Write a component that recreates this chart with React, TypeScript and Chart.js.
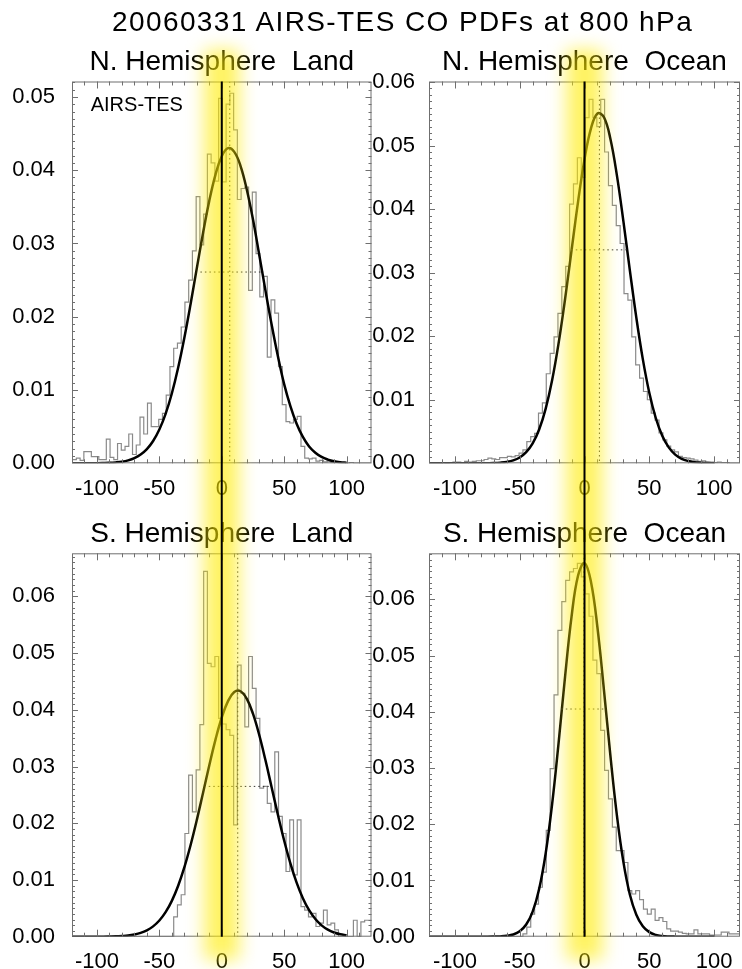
import React, { useEffect, useRef } from "react";
import { Chart, registerables } from "chart.js";

Chart.register(...registerables);

const FONT = '"Liberation Sans", Arial, Helvetica, sans-serif';
Chart.defaults.font.family = FONT;

const TITLE = "20060331 AIRS-TES CO PDFs at 800 hPa";
const PANEL_TITLES = [
  "N. Hemisphere  Land",
  "N. Hemisphere  Ocean",
  "S. Hemisphere  Land",
  "S. Hemisphere  Ocean",
];
const INSET_LABEL = "AIRS-TES";

const X_MIN = -120;
const X_MAX = 120;
const X_TICK_STEP = 50;
const Y_TICK_STEP = 0.01;

// histogram bins: left edge of first bin and bin width
const BIN_START = -119.5;
const BIN_WIDTH = 3;

// Gaussian-fit curve samples: x from -120 to 100 every 5
const CURVE_X_START = -120;
const CURVE_STEP = 5;

// ---------- N. Hemisphere Land ----------
const nhLandHist = [
  0.0005, 0.0005, 0.0007, 0.0004, 0.0016, 0.0016, 0.0009, 0.0009, 0.0005, 0.0005,
  0.0033, 0.0008, 0.0005, 0.0027, 0.0018, 0.0023, 0.0040, 0.0012, 0.0025, 0.0063,
  0.0040, 0.0082, 0.0050, 0.0050, 0.0060, 0.0068, 0.0093, 0.0132, 0.0157, 0.0164,
  0.0186, 0.0220, 0.0250, 0.0290, 0.0364, 0.0298, 0.0340, 0.0422, 0.0410, 0.0385,
  0.0498, 0.0384, 0.0490, 0.0505, 0.0455, 0.0360, 0.0375, 0.0377, 0.0236, 0.0370,
  0.0286, 0.0227, 0.0255, 0.0145, 0.0223, 0.0205, 0.0132, 0.0080, 0.0057, 0.0055,
  0.0060, 0.0064, 0.0023, 0.0007, 0.0006, 0.0007, 0.0003, 0.0004, 0.0002, 0.0003,
  0.0001, 0.0002, 0.0001, 0.0001, 0.0000, 0.0001, 0.0000, 0.0000, 0.0000, 0.0000,
];
const nhLandCurve = [
  0, 0, 0, 0.00001, 0.00001, 0.00003, 0.00006, 0.00012, 0.00022, 0.0004,
  0.0007, 0.00119, 0.00193, 0.00304, 0.00461, 0.00675, 0.00953, 0.013, 0.0171, 0.0217,
  0.0266, 0.0314, 0.0358, 0.0394, 0.0419, 0.043, 0.0425, 0.0406, 0.0374, 0.0333,
  0.0285, 0.0236, 0.0189, 0.0146, 0.0108, 0.0078, 0.0054, 0.0036, 0.0023, 0.00145,
  0.00087, 0.00051, 0.00028, 0.00015, 0.00008,
];
const nhLandMean = 6.4;
const nhLandWidthLevel = 0.0261;
const nhLandWidthRange = [-17.1, 33.6];

// ---------- N. Hemisphere Ocean ----------
const nhOceanHist = [
  0.0000, 0.0000, 0.0000, 0.0000, 0.0001, 0.0000, 0.0001, 0.0002, 0.0002, 0.0001,
  0.0003, 0.0002, 0.0003, 0.0004, 0.0004, 0.0006, 0.0008, 0.0007, 0.0006, 0.0009,
  0.0009, 0.0011, 0.0010, 0.0012, 0.0016, 0.0021, 0.0034, 0.0042, 0.0047, 0.0079,
  0.0095, 0.0141, 0.0173, 0.0199, 0.0236, 0.0278, 0.0310, 0.0408, 0.0440, 0.0481,
  0.0450, 0.0544, 0.0573, 0.0544, 0.0530, 0.0573, 0.0490, 0.0437, 0.0406, 0.0374,
  0.0346, 0.0267, 0.0257, 0.0199, 0.0155, 0.0134, 0.0113, 0.0100, 0.0079, 0.0068,
  0.0048, 0.0037, 0.0027, 0.0021, 0.0018, 0.0011, 0.0009, 0.0008, 0.0007, 0.0005,
  0.0003, 0.0004, 0.0002, 0.0002, 0.0001, 0.0002, 0.0001, 0.0001, 0.0000, 0.0000,
];
const nhOceanCurve = [
  0, 0, 0, 0, 0, 0, 0, 0, 0.00001, 0.00002,
  0.00004, 0.0001, 0.00022, 0.00046, 0.00092, 0.00175, 0.00313, 0.00532, 0.00857, 0.01307,
  0.01888, 0.02582, 0.03348, 0.04112, 0.04784, 0.05273, 0.05507, 0.05447, 0.05105, 0.04532,
  0.03812, 0.03038, 0.02293, 0.0164, 0.01111, 0.00713, 0.00434, 0.0025, 0.00136, 0.0007,
  0.00035, 0.00016, 0.00007, 0.00003, 0.00001,
];
const nhOceanMean = 11.5;
const nhOceanWidthLevel = 0.0336;
const nhOceanWidthRange = [-10.2, 33.2];

// ---------- S. Hemisphere Land ----------
const shLandHist = [
  0, 0, 0, 0, 0, 0, 0, 0, 0, 0,
  0, 0, 0, 0, 0, 0, 0, 0, 0, 0,
  0, 0, 0, 0, 0, 0, 0, 0, 0.0035, 0.0056,
  0.0074, 0.0182, 0.0285, 0.0220, 0.0294, 0.0374, 0.0644, 0.0482, 0.0476, 0.0494,
  0.0385, 0.0375, 0.0365, 0.0355, 0.0197, 0.0479, 0.0429, 0.0370, 0.0494, 0.0438,
  0.0385, 0.0262, 0.0265, 0.0235, 0.0220, 0.0326, 0.0212, 0.0182, 0.0115, 0.0206,
  0.0109, 0.0206, 0.0053, 0.0047, 0.0035, 0.0041, 0.0018, 0.0024, 0.0047, 0.0021,
  0.0024, 0.0012, 0.0000, 0.0000, 0.0000, 0.0000, 0.0029, 0.0000, 0.0026, 0.0029,
];
const shLandCurve = [
  0, 0, 0, 0, 0.00001, 0.00001, 0.00003, 0.00006, 0.00012, 0.00021,
  0.00039, 0.00067, 0.00112, 0.00182, 0.00285, 0.00432, 0.00632, 0.00894, 0.01221, 0.01613,
  0.02056, 0.02535, 0.03019, 0.03475, 0.03865, 0.04153, 0.04313, 0.04328, 0.04197, 0.03932,
  0.0356, 0.03114, 0.02632, 0.0215, 0.01697, 0.01294, 0.00954, 0.00679, 0.00467, 0.00311,
  0.002, 0.00124, 0.00074, 0.00043, 0.00024,
];
const shLandMean = 12.8;
const shLandWidthLevel = 0.0265;
const shLandWidthRange = [-10.4, 38.9];

// ---------- S. Hemisphere Ocean ----------
const shOceanHist = [
  0, 0, 0, 0, 0, 0, 0, 0, 0, 0,
  0, 0, 0, 0, 0, 0, 0, 0, 0, 0,
  0, 0, 0, 0, 0, 0.0005, 0.0017, 0.0040, 0.0058, 0.0088,
  0.0115, 0.0189, 0.0299, 0.0430, 0.0545, 0.0596, 0.0634, 0.0649, 0.0655, 0.0664,
  0.0640, 0.0610, 0.0570, 0.0492, 0.0468, 0.0367, 0.0296, 0.0245, 0.0195, 0.0153,
  0.0153, 0.0132, 0.0082, 0.0076, 0.0082, 0.0066, 0.0049, 0.0040, 0.0049, 0.0029,
  0.0034, 0.0027, 0.0014, 0.0010, 0.0010, 0.0008, 0.0006, 0.0005, 0.0005, 0.0012,
  0.0005, 0.0005, 0.0005, 0.0003, 0.0003, 0.0003, 0.0008, 0.0008, 0.0005, 0.0005,
];
const shOceanCurve = [
  0, 0, 0, 0, 0, 0, 0, 0, 0, 0,
  0.00002, 0.00005, 0.00015, 0.00039, 0.00096, 0.00216, 0.00447, 0.00849, 0.01475, 0.02354,
  0.03444, 0.04622, 0.05689, 0.06421, 0.06647, 0.06311, 0.05496, 0.04388, 0.03215, 0.02159,
  0.01331, 0.00752, 0.0039, 0.00185, 0.00081, 0.00032, 0.00012, 0.00004, 0.00001, 0,
  0, 0, 0, 0, 0,
];
const shOceanMean = -0.5;
const shOceanWidthLevel = 0.0405;
const shOceanWidthRange = [-17.9, 16.4];

const yMaxes = [0.0521, 0.0601, 0.0676, 0.0682];

// half-width (data units) of the yellow highlight band around zero
const BAND_HALF = 14;

type Layout = {
  left: number;
  top: number;
  w: number;
  h: number;
  padTop: number;
  padRight: number;
  yAxisW: number;
  xAxisH: number;
  yPad: number;
  subtitleY: number;
  bandTop: number;
  bandBottom: number;
  zeroTop: number | null;
  zeroBottom: number | null;
};

type Spec = {
  title: string;
  hist: number[];
  curve: number[];
  mean: number;
  level: number;
  range: number[];
  yMax: number;
  inset: boolean;
  layout: Layout;
};

const topRow = { top: 0, h: 508, padTop: 81.5, xAxisH: 44.7, subtitleY: 70, bandTop: 50, bandBottom: 620, zeroTop: null, zeroBottom: 508 };
const botRow = { top: 508, h: 461, padTop: 45.3, xAxisH: 32.3, subtitleY: 33.8, bandTop: -120, bandBottom: 452, zeroTop: 0, zeroBottom: null };
const leftCol = { left: 0, w: 373, padRight: 1.5, yAxisW: 72, yPad: 9 };
const rightCol = { left: 366, w: 376, padRight: 2, yAxisW: 63, yPad: 6 };

const SPECS: Spec[] = [
  { title: PANEL_TITLES[0], hist: nhLandHist, curve: nhLandCurve, mean: nhLandMean, level: nhLandWidthLevel, range: nhLandWidthRange, yMax: yMaxes[0], inset: true, layout: { ...topRow, ...leftCol } as Layout },
  { title: PANEL_TITLES[1], hist: nhOceanHist, curve: nhOceanCurve, mean: nhOceanMean, level: nhOceanWidthLevel, range: nhOceanWidthRange, yMax: yMaxes[1], inset: false, layout: { ...topRow, ...rightCol } as Layout },
  { title: PANEL_TITLES[2], hist: shLandHist, curve: shLandCurve, mean: shLandMean, level: shLandWidthLevel, range: shLandWidthRange, yMax: yMaxes[2], inset: false, layout: { ...botRow, ...leftCol } as Layout },
  { title: PANEL_TITLES[3], hist: shOceanHist, curve: shOceanCurve, mean: shOceanMean, level: shOceanWidthLevel, range: shOceanWidthRange, yMax: yMaxes[3], inset: false, layout: { ...botRow, ...rightCol } as Layout },
];

function makePlugin(spec: Spec) {
  return {
    id: "pdfDecor",
    afterDatasetsDraw(chart: any) {
      const { ctx, chartArea: a } = chart;
      const xs = chart.scales.x;
      const ys = chart.scales.y;
      const L = spec.layout;

      // dotted mean / width markers
      ctx.save();
      ctx.beginPath();
      ctx.rect(a.left, a.top, a.right - a.left, a.bottom - a.top);
      ctx.clip();
      ctx.setLineDash([1.5, 3]);
      ctx.strokeStyle = "#333";
      ctx.lineWidth = 1;
      const mx = xs.getPixelForValue(spec.mean);
      ctx.beginPath();
      ctx.moveTo(mx, a.top);
      ctx.lineTo(mx, a.bottom);
      ctx.stroke();
      const ly = ys.getPixelForValue(spec.level);
      ctx.beginPath();
      ctx.moveTo(xs.getPixelForValue(spec.range[0]), ly);
      ctx.lineTo(xs.getPixelForValue(spec.range[1]), ly);
      ctx.stroke();
      ctx.restore();

      // box and inward ticks
      ctx.save();
      ctx.strokeStyle = "#6f6f6f";
      ctx.lineWidth = 1;
      ctx.strokeRect(a.left + 0.5, a.top + 0.5, a.right - a.left - 1, a.bottom - a.top - 1);
      ctx.beginPath();
      for (let v = X_MIN + 10; v < X_MAX; v += 10) {
        const px = Math.round(xs.getPixelForValue(v)) + 0.5;
        const len = v % X_TICK_STEP === 0 ? 7 : 4;
        ctx.moveTo(px, a.bottom);
        ctx.lineTo(px, a.bottom - len);
        ctx.moveTo(px, a.top);
        ctx.lineTo(px, a.top + len);
      }
      for (let k = 1; k * 0.001 < spec.yMax; k++) {
        const py = Math.round(ys.getPixelForValue(k * 0.001)) + 0.5;
        const len = k % 10 === 0 ? 6 : 3;
        ctx.moveTo(a.left, py);
        ctx.lineTo(a.left + len, py);
        ctx.moveTo(a.right, py);
        ctx.lineTo(a.right - len, py);
      }
      ctx.stroke();
      ctx.restore();

      // panel title
      ctx.save();
      ctx.fillStyle = "#000";
      ctx.font = `28px ${FONT}`;
      ctx.textAlign = "center";
      ctx.textBaseline = "alphabetic";
      ctx.fillText(spec.title, (a.left + a.right) / 2, L.subtitleY);
      if (spec.inset) {
        ctx.font = `20px ${FONT}`;
        ctx.textAlign = "left";
        ctx.fillText(INSET_LABEL, a.left + 18.7, a.top + 29);
      }
      ctx.restore();

      // yellow highlight band around zero
      const x0 = xs.getPixelForValue(0);
      const hw = xs.getPixelForValue(BAND_HALF) - x0;
      ctx.save();
      ctx.filter = "blur(9px)";
      ctx.globalAlpha = 0.62;
      ctx.fillStyle = "rgb(255,236,0)";
      ctx.fillRect(x0 - hw, L.bandTop, 2 * hw, L.bandBottom - L.bandTop);
      ctx.restore();

      // zero line
      ctx.save();
      ctx.strokeStyle = "#000";
      ctx.lineWidth = 2;
      ctx.beginPath();
      ctx.moveTo(x0, L.zeroTop === null ? a.top : L.zeroTop);
      ctx.lineTo(x0, L.zeroBottom === null ? a.bottom : L.zeroBottom);
      ctx.stroke();
      ctx.restore();
    },
  };
}

function Panel({ spec }: { spec: Spec }) {
  const ref = useRef<HTMLCanvasElement | null>(null);
  useEffect(() => {
    const canvas = ref.current;
    if (!canvas) return;
    const L = spec.layout;
    const histPts = [];
    for (let i = 0; i <= spec.hist.length; i++) {
      histPts.push({ x: BIN_START + i * BIN_WIDTH, y: spec.hist[Math.min(i, spec.hist.length - 1)] });
    }
    const curvePts = spec.curve.map((v, i) => ({ x: CURVE_X_START + i * CURVE_STEP, y: v }));
    const chart = new Chart(canvas, {
      type: "line",
      data: {
        datasets: [
          {
            data: curvePts,
            borderColor: "#000",
            borderWidth: 2.5,
            pointRadius: 0,
            tension: 0.4,
            fill: false,
            order: 0,
          },
          {
            data: histPts,
            borderColor: "#8a8a8a",
            borderWidth: 1.2,
            pointRadius: 0,
            stepped: "after",
            fill: false,
            order: 1,
          },
        ],
      },
      options: {
        responsive: false,
        animation: false,
        devicePixelRatio: 1,
        events: [],
        layout: { padding: { top: L.padTop, right: L.padRight, left: 0, bottom: 0 } },
        plugins: {
          legend: { display: false },
          tooltip: { enabled: false },
          title: { display: false },
        },
        scales: {
          x: {
            type: "linear",
            min: X_MIN,
            max: X_MAX,
            afterFit: (s: any) => {
              s.height = L.xAxisH;
            },
            grid: { display: false },
            border: { display: false },
            ticks: {
              stepSize: X_TICK_STEP,
              includeBounds: false,
              autoSkip: false,
              maxRotation: 0,
              color: "#000",
              padding: 4,
              font: { size: 22, family: FONT },
              callback: (v: any) => String(v),
            },
          },
          y: {
            type: "linear",
            min: 0,
            max: spec.yMax,
            afterFit: (s: any) => {
              s.width = L.yAxisW;
            },
            grid: { display: false },
            border: { display: false },
            ticks: {
              stepSize: Y_TICK_STEP,
              includeBounds: false,
              autoSkip: false,
              color: "#000",
              padding: L.yPad,
              font: { size: 22, family: FONT },
              callback: (v: any) => Number(v).toFixed(2),
            },
          },
        },
      } as any,
      plugins: [makePlugin(spec)],
    });
    return () => chart.destroy();
  }, [spec]);
  const L = spec.layout;
  return (
    <canvas
      ref={ref}
      width={L.w}
      height={L.h}
      style={{ position: "absolute", left: L.left, top: L.top, width: L.w, height: L.h }}
    />
  );
}

export default function App() {
  return (
    <div style={{ position: "absolute", left: 0, top: 0, width: 742, height: 969, background: "#fff", overflow: "hidden" }}>
      {SPECS.map((s, i) => (
        <Panel key={i} spec={s} />
      ))}
      <div
        style={{
          position: "absolute",
          left: 112,
          top: 8,
          fontFamily: FONT,
          fontSize: 28,
          lineHeight: "28px",
          letterSpacing: "1.4px",
          whiteSpace: "nowrap",
          color: "#000",
        }}
      >
        {TITLE}
      </div>
    </div>
  );
}
